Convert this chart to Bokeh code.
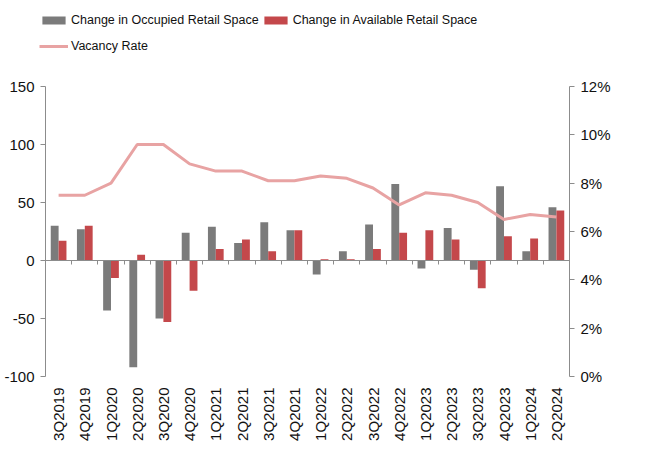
import math
from bokeh.plotting import figure
from bokeh.layouts import column
from bokeh.models import (Range1d, LinearAxis, FixedTicker, Legend, LegendItem,
                          NumeralTickFormatter, ColumnDataSource)
from bokeh.embed import file_html
from bokeh.resources import INLINE

quarters = ["3Q2019", "4Q2019", "1Q2020", "2Q2020", "3Q2020", "4Q2020",
            "1Q2021", "2Q2021", "3Q2021", "4Q2021", "1Q2022", "2Q2022",
            "3Q2022", "4Q2022", "1Q2023", "2Q2023", "3Q2023", "4Q2023",
            "1Q2024", "2Q2024"]
occupied = [30, 27, -43, -92, -50, 24, 29, 15, 33, 26, -12, 8,
            31, 66, -7, 28, -8, 64, 8, 46]
available = [17, 30, -15, 5, -53, -26, 10, 18, 8, 26, 1, 1,
             10, 24, 26, 18, -24, 21, 19, 43]
vacancy = [7.5, 7.5, 8.0, 9.6, 9.6, 8.8, 8.5, 8.5, 8.1, 8.1, 8.3, 8.2,
           7.8, 7.1, 7.6, 7.5, 7.2, 6.5, 6.7, 6.6]
left_ticks = [-100, -50, 0, 50, 100, 150]
right_ticks = [0, 2, 4, 6, 8, 10, 12]
series_names = ["Change in Occupied Retail Space",
                "Change in Available Retail Space",
                "Vacancy Rate"]

n = len(quarters)
centers = [i + 0.5 for i in range(n)]
src = ColumnDataSource(dict(
    x_occ=[c - 0.15 for c in centers],
    x_av=[c + 0.15 for c in centers],
    x=centers,
    occupied=occupied,
    available=available,
    vacancy=[v / 100 for v in vacancy],
))

FONT = "Liberation Sans"
GRAY = "#7b7b7b"
RED = "#c4484b"
PINK = "#e8a3a3"
AXIS = "#8c8c8c"
LEGEND_H = 70

# --- legend strip ---------------------------------------------------------
top = figure(width=650, height=LEGEND_H, output_backend="svg",
             toolbar_location=None, x_range=Range1d(0, 1), y_range=Range1d(0, 1),
             min_border=0, x_axis_location=None, y_axis_location=None)
top.frame_align = False
top.outline_line_color = None
top.grid.visible = False
# key renderers carry no drawable data; they only lend their style to the legend
key_src = ColumnDataSource(dict(x=[float("nan")], y=[float("nan")]))
k_occ = top.vbar(x="x", top="y", width=0.1, source=key_src,
                 fill_color=GRAY, line_color=None)
k_av = top.vbar(x="x", top="y", width=0.1, source=key_src,
                fill_color=RED, line_color=None)
k_vac = top.line(x="x", y="y", source=key_src, line_color=PINK, line_width=3)
legend = Legend(items=[LegendItem(label=name, renderers=[r], index=0)
                       for name, r in zip(series_names, [k_occ, k_av, k_vac])],
                orientation="horizontal", ncols=2, location=(39, 12),
                glyph_width=29, glyph_height=10, label_height=24,
                label_standoff=3, spacing=2, padding=0, margin=0,
                border_line_color=None, background_fill_alpha=0,
                label_text_font=FONT, label_text_font_size="12.5px",
                label_text_color="#111111")
top.add_layout(legend, "center")

# --- main chart -------------------------------------------------------------
p = figure(width=650, height=455 - LEGEND_H, output_backend="svg",
           toolbar_location=None,
           x_range=Range1d(0, n), y_range=Range1d(-100, 150),
           min_border_left=45, min_border_right=81, min_border_top=16,
           min_border_bottom=79, x_axis_location=None, y_axis_location=None)
p.frame_align = False
p.outline_line_color = None
p.grid.visible = False

p.extra_y_ranges = {"pct": Range1d(0, 0.12)}

p.vbar(x="x_occ", top="occupied", width=0.3, source=src,
       fill_color=GRAY, line_color=None)
p.vbar(x="x_av", top="available", width=0.3, source=src,
       fill_color=RED, line_color=None)
p.line(x="x", y="vacancy", source=src, y_range_name="pct",
       line_color=PINK, line_width=3)

# left value axis (plain hyphen for negatives)
yl = LinearAxis(ticker=FixedTicker(ticks=left_ticks),
                major_label_overrides={t: str(t) for t in left_ticks})
# right percentage axis
yr = LinearAxis(y_range_name="pct",
                ticker=FixedTicker(ticks=[t / 100 for t in right_ticks]),
                formatter=NumeralTickFormatter(format="0%"))
for ax in (yl, yr):
    ax.axis_line_color = AXIS
    ax.major_tick_line_color = AXIS
    ax.major_tick_out = 5
    ax.major_tick_in = 0
    ax.minor_tick_line_color = None
    ax.major_label_standoff = 6
    ax.major_label_text_font = FONT
    ax.major_label_text_font_size = "15px"
    ax.major_label_text_color = "#111111"
p.add_layout(yl, "left")
p.add_layout(yr, "right")

# category labels along the bottom
xb = LinearAxis(ticker=FixedTicker(ticks=centers),
                major_label_overrides={c: q for c, q in zip(centers, quarters)})
xb.axis_line_color = None
xb.major_tick_line_color = None
xb.minor_tick_line_color = None
xb.major_label_orientation = math.pi / 2
xb.major_label_standoff = 5
xb.major_label_text_font = FONT
xb.major_label_text_font_size = "15px"
xb.major_label_text_color = "#111111"
p.add_layout(xb, "below")

# zero line with separators between quarters
bounds = list(range(1, n))
xz = LinearAxis(ticker=FixedTicker(ticks=bounds), fixed_location=0,
                major_label_overrides={b: "" for b in bounds})
xz.axis_line_color = AXIS
xz.major_tick_line_color = AXIS
xz.major_tick_out = 4
xz.major_tick_in = 0
xz.minor_tick_line_color = None
xz.major_label_standoff = 0
p.add_layout(xz, "below")

layout = column(top, p, spacing=0)
open("out.html", "w").write(file_html(layout, INLINE))
